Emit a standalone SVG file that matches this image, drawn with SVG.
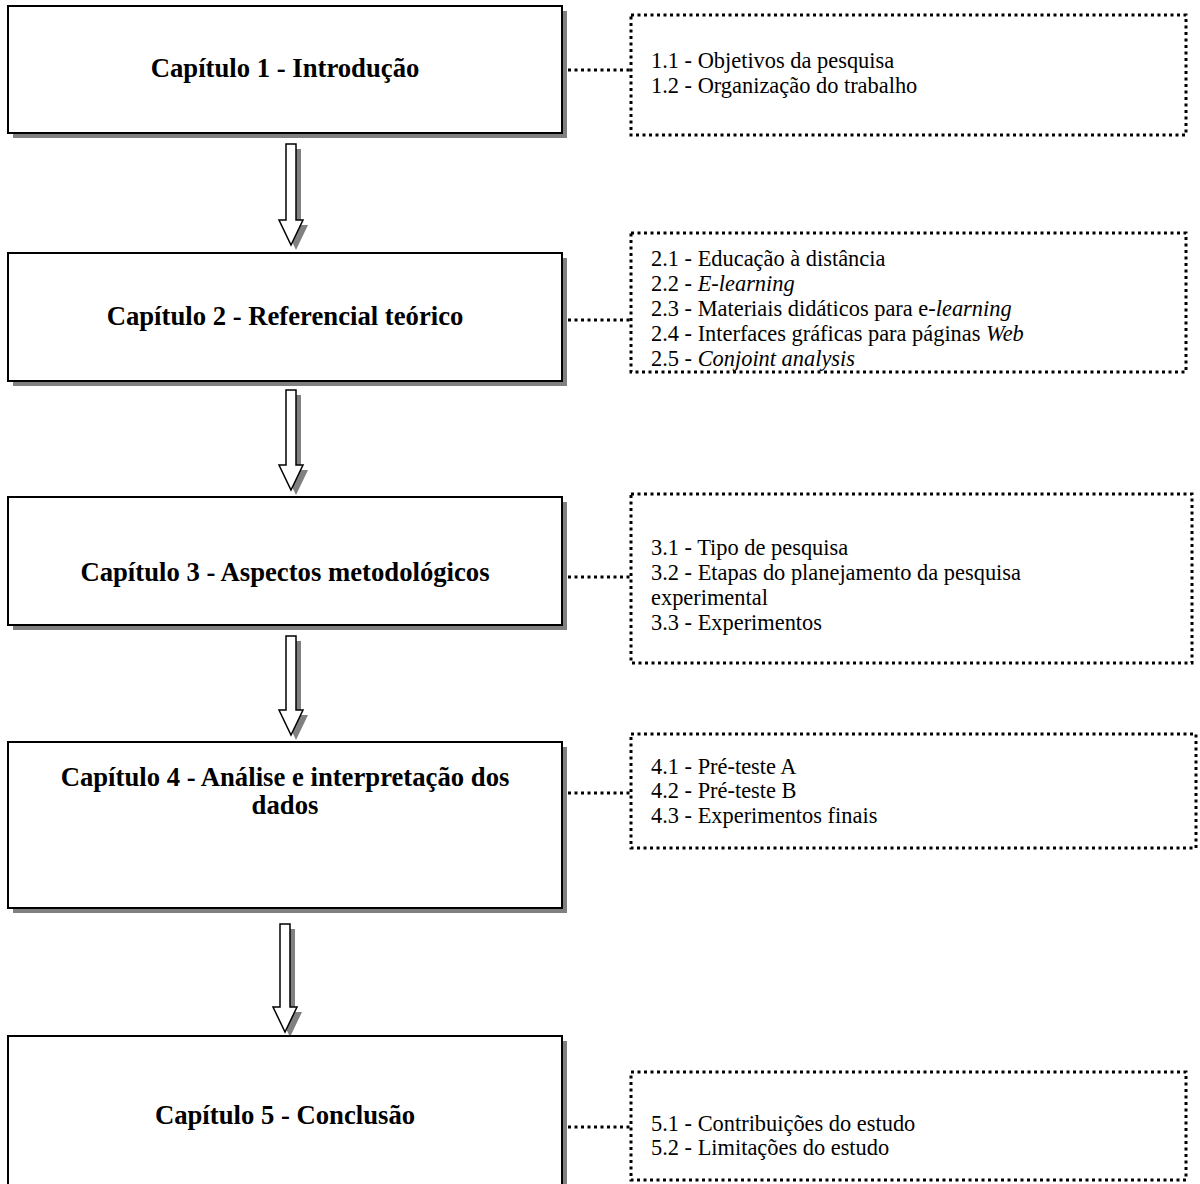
<svg xmlns="http://www.w3.org/2000/svg" width="1200" height="1184" viewBox="0 0 1200 1184">
<style>
.box{fill:#fff;stroke:#000;stroke-width:2}
.shadow{fill:#808080}
.title{font-family:"Liberation Serif","Times New Roman",serif;font-weight:bold;font-size:26.7px;fill:#000;text-anchor:middle}
.item{font-family:"Liberation Serif","Times New Roman",serif;font-size:22.4px;fill:#000}
.dot{fill:none;stroke:#000;stroke-width:3;stroke-dasharray:3 3.5}
.arrow{fill:#fff;stroke:#000;stroke-width:1.5;stroke-linejoin:miter}
.ashadow{fill:#808080}
.i{font-style:italic}
</style>
<rect width="1200" height="1184" fill="#fff"/>
<g id="connectors">
  <line class="dot" x1="568" y1="70" x2="630" y2="70"/>
  <line class="dot" x1="568" y1="320" x2="630" y2="320"/>
  <line class="dot" x1="568" y1="577" x2="630" y2="577"/>
  <line class="dot" x1="568" y1="793" x2="630" y2="793"/>
  <line class="dot" x1="568" y1="1127" x2="630" y2="1127"/>
  <g id="arrow1">
    <path class="ashadow" d="M291,149 H301 V225 H308 L296,250 L284,225 H291 Z"/>
    <path class="arrow" d="M286,144 H296 V220 H303 L291,245 L279,220 H286 Z"/>
  </g>
  <g id="arrow2">
    <path class="ashadow" d="M291,395 H301 V470 H308 L296,495 L284,470 H291 Z"/>
    <path class="arrow" d="M286,390 H296 V465 H303 L291,490 L279,465 H286 Z"/>
  </g>
  <g id="arrow3">
    <path class="ashadow" d="M291,641 H301 V715 H308 L296,740 L284,715 H291 Z"/>
    <path class="arrow" d="M286,636 H296 V710 H303 L291,735 L279,710 H286 Z"/>
  </g>
  <g id="arrow4">
    <path class="ashadow" d="M285,929 H295 V1012 H302 L290,1037 L278,1012 H285 Z"/>
    <path class="arrow" d="M280,924 H290 V1007 H297 L285,1032 L273,1007 H280 Z"/>
  </g>
</g>
<g id="node1">
  <rect class="shadow" x="13" y="11" width="554" height="127"/>
  <rect class="box" x="8" y="6" width="554" height="127"/>
  <text class="title" x="285" y="77">Capítulo 1 - Introdução</text>
</g>
<g id="sub1">
  <rect class="dot" x="631" y="15" width="555" height="120"/>
  <text class="item" x="651" y="68">1.1 - Objetivos da pesquisa</text>
  <text class="item" x="651" y="93">1.2 - Organização do trabalho</text>
</g>
<g id="node2">
  <rect class="shadow" x="13" y="258" width="554" height="128"/>
  <rect class="box" x="8" y="253" width="554" height="128"/>
  <text class="title" x="285" y="325">Capítulo 2 - Referencial teórico</text>
</g>
<g id="sub2">
  <rect class="dot" x="631" y="233" width="555" height="139"/>
  <text class="item" x="651" y="266">2.1 - Educação à distância</text>
  <text class="item" x="651" y="291">2.2 - <tspan class="i">E-learning</tspan></text>
  <text class="item" x="651" y="316">2.3 - Materiais didáticos para e-<tspan class="i">learning</tspan></text>
  <text class="item" x="651" y="341">2.4 - Interfaces gráficas para páginas <tspan class="i">Web</tspan></text>
  <text class="item" x="651" y="366">2.5 - <tspan class="i">Conjoint analysis</tspan></text>
</g>
<g id="node3">
  <rect class="shadow" x="13" y="502" width="554" height="128"/>
  <rect class="box" x="8" y="497" width="554" height="128"/>
  <text class="title" x="285" y="581">Capítulo 3 - Aspectos metodológicos</text>
</g>
<g id="sub3">
  <rect class="dot" x="631" y="494" width="561" height="169"/>
  <text class="item" x="651" y="555">3.1 - Tipo de pesquisa</text>
  <text class="item" x="651" y="580">3.2 - Etapas do planejamento da pesquisa</text>
  <text class="item" x="651" y="605">experimental</text>
  <text class="item" x="651" y="630">3.3 - Experimentos</text>
</g>
<g id="node4">
  <rect class="shadow" x="13" y="747" width="554" height="166"/>
  <rect class="box" x="8" y="742" width="554" height="166"/>
  <text class="title" x="285" y="786">Capítulo 4 - Análise e interpretação dos</text>
  <text class="title" x="285" y="814">dados</text>
</g>
<g id="sub4">
  <rect class="dot" x="631" y="734" width="565" height="114"/>
  <text class="item" x="651" y="774">4.1 - Pré-teste A</text>
  <text class="item" x="651" y="798">4.2 - Pré-teste B</text>
  <text class="item" x="651" y="823">4.3 - Experimentos finais</text>
</g>
<g id="node5">
  <rect class="shadow" x="13" y="1041" width="554" height="200"/>
  <rect class="box" x="8" y="1036" width="554" height="200"/>
  <text class="title" x="285" y="1124">Capítulo 5 - Conclusão</text>
</g>
<g id="sub5">
  <rect class="dot" x="631" y="1072" width="555" height="108"/>
  <text class="item" x="651" y="1131">5.1 - Contribuições do estudo</text>
  <text class="item" x="651" y="1155">5.2 - Limitações do estudo</text>
</g>
</svg>
